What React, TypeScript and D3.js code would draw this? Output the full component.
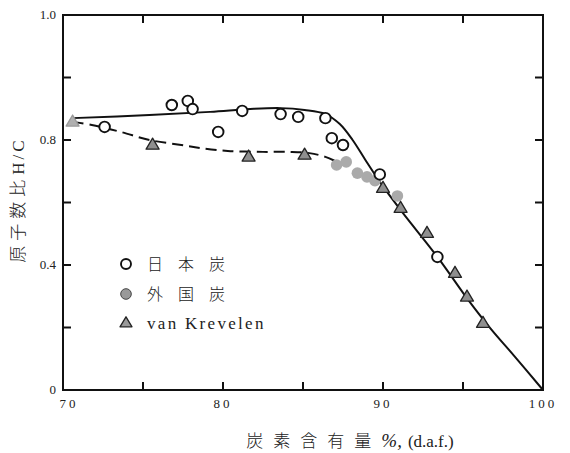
import React from "react";
import * as d3 from "d3";

const W = 570;
const H = 453;

// Carbon content (% d.a.f.) and atomic H/C ratio
const japanC = [72.6, 76.8, 77.8, 78.1, 79.7, 81.2, 83.6, 84.7, 86.4, 86.8, 87.5, 89.8, 93.4];
const japanHC = [0.842, 0.912, 0.925, 0.899, 0.826, 0.893, 0.883, 0.874, 0.87, 0.806, 0.784, 0.69, 0.426];

const foreignC = [87.1, 87.7, 88.4, 89.0, 89.5, 90.9];
const foreignHC = [0.72, 0.73, 0.694, 0.682, 0.67, 0.621];

const krevelenC = [70.6, 75.6, 81.6, 85.1, 90.0, 91.1, 92.75, 94.5, 95.25, 96.25];
const krevelenHC = [0.858, 0.784, 0.746, 0.752, 0.646, 0.582, 0.502, 0.374, 0.298, 0.214];

// Trend curves
const solidC = [70.6, 75.4, 79.2, 81.7, 83.6, 85.1, 86.4, 87.3, 88.1, 88.9, 89.8, 91.25, 93.4, 95.3, 96.7, 98.25, 100];
const solidHC = [0.87, 0.88, 0.89, 0.899, 0.902, 0.896, 0.883, 0.851, 0.8, 0.736, 0.666, 0.566, 0.426, 0.29, 0.198, 0.106, 0];

const dashC = [70.6, 71.8, 73.6, 75.4, 77.4, 78.6, 80.3, 82.5, 84.2, 85.4, 86.4, 87.0];
const dashHC = [0.858, 0.848, 0.826, 0.8, 0.784, 0.774, 0.765, 0.762, 0.762, 0.758, 0.746, 0.733];

// Axes
const xMinorTicks = [75, 80, 85, 90, 95];
const yMinorTicks = [0.2, 0.4, 0.6, 0.8, 1.0];
const xLabelValues = [70, 80, 90, 100];
const xLabelTexts = ["70", "80", "90", "100"];
const yLabelValues = [0, 0.4, 0.8, 1.2];
const yLabelTexts = ["0", "0.4", "0.8", "1.0"];

const legendLabels = ["日本炭", "外国炭", "van Krevelen"];

const LATIN = "Liberation Serif";
const CJK = "Noto Sans CJK JP";

const x = d3.scaleLinear().domain([70, 100]).range([63, 543]);
const y = d3.scaleLinear().domain([0, 1.2]).range([390, 15]);

const lineGen = d3
  .line<[number, number]>()
  .x((d) => x(d[0]))
  .y((d) => y(d[1]))
  .curve(d3.curveCatmullRom.alpha(0.5));

function triPath(cx: number, cy: number, w = 13, h = 11) {
  return `M${cx},${cy - h * 0.62} L${cx + w / 2},${cy + h * 0.38} L${cx - w / 2},${cy + h * 0.38} Z`;
}

export default function App() {
  const solidD = lineGen(solidC.map((c, i) => [c, solidHC[i]] as [number, number])) || "";
  const dashD = lineGen(dashC.map((c, i) => [c, dashHC[i]] as [number, number])) || "";

  const tickLen = 8;

  return (
    <svg
      width={W}
      height={H}
      viewBox={`0 0 ${W} ${H}`}
      style={{ position: "absolute", left: 0, top: 0, background: "#fff" }}
    >
      <rect x={0} y={0} width={W} height={H} fill="#fff" />

      {/* frame */}
      <rect x={x(70)} y={y(1.2)} width={x(100) - x(70)} height={y(0) - y(1.2)} fill="none" stroke="#111" strokeWidth={2} />

      {/* x ticks, bottom and top */}
      {xMinorTicks.map((v) => (
        <g key={"xt" + v}>
          <line x1={x(v)} x2={x(v)} y1={y(0)} y2={y(0) - tickLen} stroke="#111" strokeWidth={2} />
          <line x1={x(v)} x2={x(v)} y1={y(1.2)} y2={y(1.2) + tickLen} stroke="#111" strokeWidth={2} />
        </g>
      ))}

      {/* y ticks, left and right */}
      {yMinorTicks.map((v) => (
        <g key={"yt" + v}>
          <line x1={x(70)} x2={x(70) + tickLen} y1={y(v)} y2={y(v)} stroke="#111" strokeWidth={2} />
          <line x1={x(100)} x2={x(100) - tickLen} y1={y(v)} y2={y(v)} stroke="#111" strokeWidth={2} />
        </g>
      ))}

      {/* tick labels */}
      {xLabelValues.map((v, i) => (
        <text
          key={"xl" + v}
          x={x(v) + (i === 0 ? 6 : 0)}
          y={408}
          fontSize={13}
          letterSpacing={3}
          textAnchor="middle"
          fill="#222"
          fontFamily={LATIN}
        >
          {xLabelTexts[i]}
        </text>
      ))}
      {yLabelValues.map((v, i) => (
        <text key={"yl" + v} x={56} y={y(v) + 4} fontSize={13} textAnchor="end" fill="#222" fontFamily={LATIN}>
          {yLabelTexts[i]}
        </text>
      ))}

      {/* axis titles */}
      <text x={350} y={447} fontSize={17} textAnchor="middle" fill="#222">
        <tspan letterSpacing={10} fontFamily={CJK} fontWeight={300}>炭素含有量</tspan>
        <tspan fontStyle="italic" fontFamily={LATIN} fontSize={19}>%,</tspan>
        <tspan dx={6} fontFamily={LATIN}>(d.a.f.)</tspan>
      </text>
      <text transform="translate(24,200) rotate(-90)" fontSize={17} textAnchor="middle" fill="#222">
        <tspan fontFamily={CJK} fontWeight={300} letterSpacing={5}>原子数比</tspan>
        <tspan fontFamily={LATIN} letterSpacing={3}>H/C</tspan>
      </text>

      {/* curves */}
      <path d={dashD} fill="none" stroke="#111" strokeWidth={2} strokeDasharray="11,6" />
      <path d={solidD} fill="none" stroke="#111" strokeWidth={2} />

      {/* foreign coal */}
      {foreignC.map((c, i) => (
        <circle key={"f" + i} cx={x(c)} cy={y(foreignHC[i])} r={5.8} fill="#aaaaaa" />
      ))}

      {/* van Krevelen */}
      {krevelenC.map((c, i) => (
        <path
          key={"k" + i}
          d={triPath(x(c), y(krevelenHC[i]))}
          fill={i === 0 ? "#b0b0b0" : "#8f8f8f"}
          stroke={i === 0 ? "#999" : "#222"}
          strokeWidth={1.3}
          strokeLinejoin="round"
        />
      ))}

      {/* Japanese coal */}
      {japanC.map((c, i) => (
        <circle key={"j" + i} cx={x(c)} cy={y(japanHC[i])} r={5.3} fill="#fff" stroke="#111" strokeWidth={1.9} />
      ))}

      {/* legend */}
      <circle cx={126} cy={264} r={5} fill="#fff" stroke="#111" strokeWidth={1.9} />
      <circle cx={126} cy={294} r={5.3} fill="#999" stroke="#444" strokeWidth={1} />
      <path d={triPath(126, 323, 12, 10)} fill="#999" stroke="#222" strokeWidth={1.3} strokeLinejoin="round" />
      <text x={147} y={270} fontSize={16} letterSpacing={15} fill="#222" fontFamily={CJK} fontWeight={300}>
        {legendLabels[0]}
      </text>
      <text x={147} y={300} fontSize={16} letterSpacing={15} fill="#222" fontFamily={CJK} fontWeight={300}>
        {legendLabels[1]}
      </text>
      <text x={147} y={329} fontSize={17} letterSpacing={2.3} fill="#222" fontFamily={LATIN}>
        {legendLabels[2]}
      </text>
    </svg>
  );
}
